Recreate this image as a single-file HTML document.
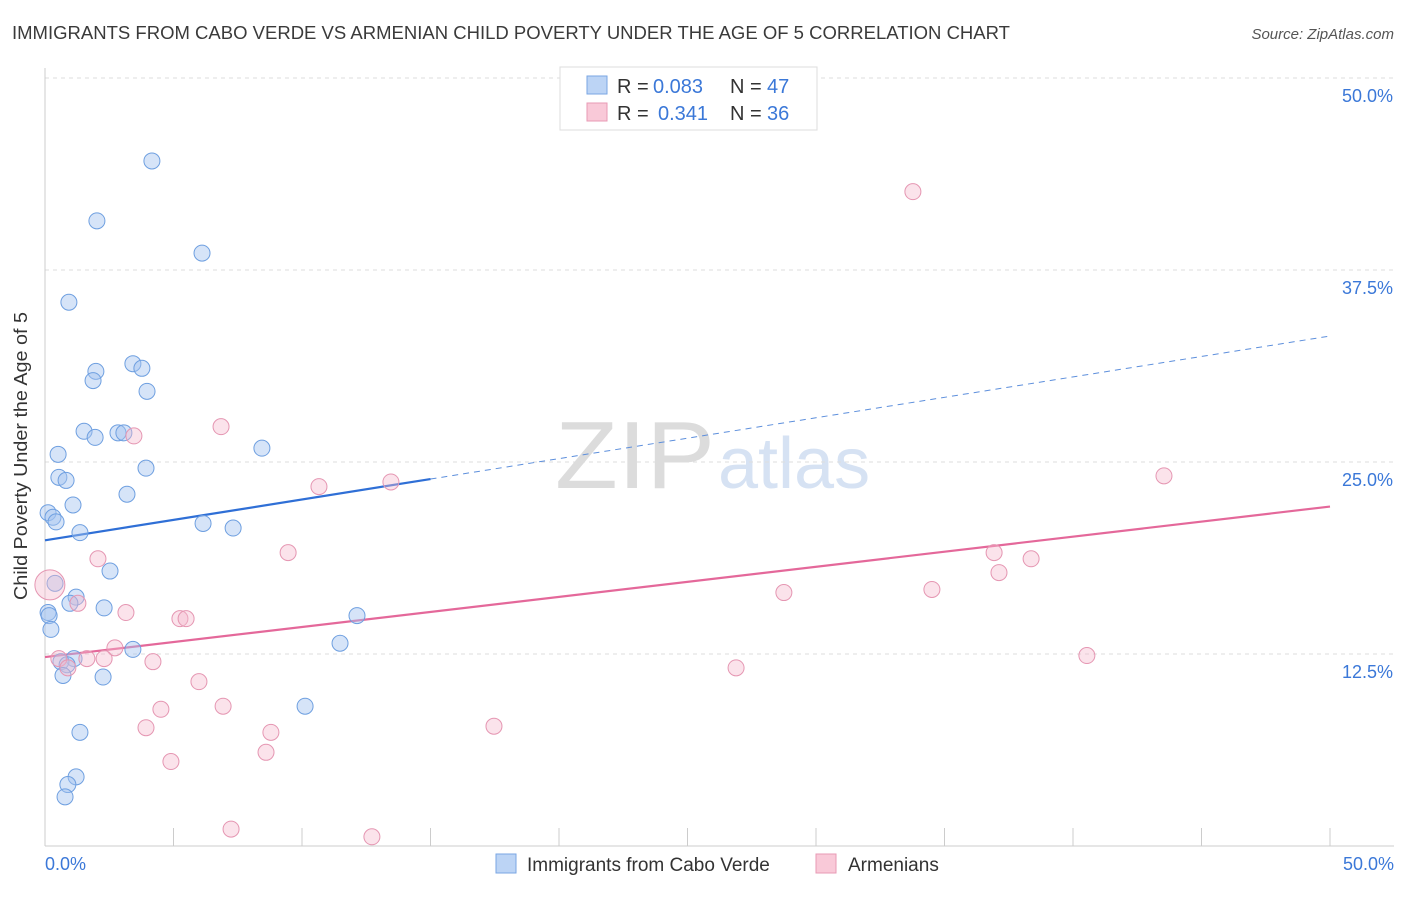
<!DOCTYPE html>
<html><head><meta charset="utf-8"><style>
body{margin:0;background:#fff;font-family:"Liberation Sans",sans-serif}
svg text{font-family:"Liberation Sans",sans-serif}
</style></head><body>
<svg width="1406" height="892">
<text x="12" y="39" font-size="18" fill="#3a3a3a" textLength="998" lengthAdjust="spacingAndGlyphs">IMMIGRANTS FROM CABO VERDE VS ARMENIAN CHILD POVERTY UNDER THE AGE OF 5 CORRELATION CHART</text>
<text x="1394" y="39" font-size="15" fill="#555" text-anchor="end" font-style="italic">Source: ZipAtlas.com</text>
<text x="555" y="488" font-size="96" fill="#dcdcdc" font-family="Liberation Serif" textLength="160" lengthAdjust="spacingAndGlyphs">ZIP</text>
<text x="718" y="488" font-size="72" fill="#d6e2f3">atlas</text>
<g id="grid"></g><g id="axes"></g><g id="lines"></g><g id="pts"></g>
<text x="27" y="456" font-size="18" fill="#333" text-anchor="middle" textLength="288" lengthAdjust="spacingAndGlyphs" transform="rotate(-90 27 456)">Child Poverty Under the Age of 5</text>
<g>
<rect x="560" y="67" width="257" height="63" fill="#fff" stroke="#ddd"/>
<rect x="587" y="76" width="20" height="18" fill="#bcd4f5" stroke="#7aa6e3"/>
<rect x="587" y="103" width="20" height="18" fill="#f9c9d8" stroke="#e89ab5"/>
<text x="617" y="93" font-size="20" fill="#333">R =</text>
<text x="653" y="93" font-size="20" fill="#3b78d8">0.083</text>
<text x="730" y="93" font-size="20" fill="#333">N =</text>
<text x="767" y="93" font-size="20" fill="#3b78d8">47</text>
<text x="617" y="120" font-size="20" fill="#333">R =</text>
<text x="658" y="120" font-size="20" fill="#3b78d8">0.341</text>
<text x="730" y="120" font-size="20" fill="#333">N =</text>
<text x="767" y="120" font-size="20" fill="#3b78d8">36</text>
</g>
<g>
<rect x="496" y="854" width="20" height="19" fill="#bcd4f5" stroke="#7aa6e3"/>
<text x="527" y="871" font-size="19" fill="#333">Immigrants from Cabo Verde</text>
<rect x="816" y="854" width="20" height="19" fill="#f9c9d8" stroke="#e89ab5"/>
<text x="848" y="871" font-size="19" fill="#333">Armenians</text>
</g>
</svg>
<script>
const yTicks=[12.5,25,37.5,50];
const yTickLabels=["12.5%","25.0%","37.5%","50.0%"];
const xTickLabels=["0.0%","50.0%"];
const blueX=[4.16,2.02,6.11,0.93,3.42,3.77,1.98,1.87,3.97,1.52,1.95,2.84,3.07,8.44,0.51,3.93,0.54,0.82,3.19,1.09,0.12,0.31,0.43,6.15,7.32,1.36,2.53,0.39,1.21,0.97,2.30,0.12,0.16,12.14,0.23,11.48,3.42,1.13,0.62,0.86,0.70,2.26,10.12,1.36,1.21,0.89,0.78];
const blueY=[44.6,40.7,38.6,35.4,31.4,31.1,30.9,30.3,29.6,27.0,26.6,26.9,26.9,25.9,25.5,24.6,24.0,23.8,22.9,22.2,21.7,21.4,21.1,21.0,20.7,20.4,17.9,17.1,16.2,15.8,15.5,15.2,15.0,15.0,14.1,13.2,12.8,12.2,12.0,11.8,11.1,11.0,9.1,7.4,4.5,4.0,3.2];
const pinkX=[33.77,6.85,3.46,10.66,13.46,43.54,9.46,2.06,36.93,38.37,37.12,0.19,28.75,34.51,1.28,3.15,5.25,5.49,2.72,0.54,1.63,2.30,4.20,0.89,40.54,26.89,5.99,4.51,6.93,3.93,17.47,8.79,8.60,4.90,7.24,12.72];
const pinkY=[42.6,27.3,26.7,23.4,23.7,24.1,19.1,18.7,19.1,18.7,17.8,17.0,16.5,16.7,15.8,15.2,14.8,14.8,12.9,12.2,12.2,12.2,12.0,11.6,12.4,11.6,10.7,8.9,9.1,7.7,7.8,7.4,6.1,5.5,1.1,0.6];
const blueTrend=[19.9,33.2];
const pinkTrend=[12.3,22.1];
const X=v=>45+v*25.7, Y=v=>846-v*15.36;
const NS="http://www.w3.org/2000/svg";
function mk(p,t,a){const e=document.createElementNS(NS,t);for(const k in a)e.setAttribute(k,a[k]);document.getElementById(p).appendChild(e);return e;}
yTicks.forEach((t,i)=>{
 const l=mk('grid','line',{x1:45,x2:1394,y1:Y(t),y2:Y(t),stroke:'#ddd','stroke-dasharray':'4,4'});
 
 
 const tx=mk('grid','text',{x:1393,y:Y(t)+24,'font-size':18,fill:'#3b78d8','text-anchor':'end'});
 tx.textContent=yTickLabels[i];
 
 
});
const ax=mk('axes','line',{x1:45,x2:1394,y1:846,y2:846,stroke:'#ccc'});


const ay=mk('axes','line',{x1:45,x2:45,y1:68,y2:846,stroke:'#ccc'});


for(let i=0;i<=10;i++){const t=mk('axes','line',{x1:X(i*5),x2:X(i*5),y1:828,y2:846,stroke:'#ccc'});
 
 }
[[0,'start',45],[1,'end',1394]].forEach(([i,a,x])=>{const t=mk('axes','text',{x:x,y:870,'font-size':18,fill:'#3b78d8','text-anchor':a});t.textContent=xTickLabels[i];
 
 });
const bx=v=>blueTrend[0]+(blueTrend[1]-blueTrend[0])*v/50;
let e=mk('lines','line',{x1:X(0),y1:Y(bx(0)),x2:X(15),y2:Y(bx(15)),stroke:'#2f6fd6','stroke-width':2.2});


e=mk('lines','line',{x1:X(15),y1:Y(bx(15)),x2:X(50),y2:Y(bx(50)),stroke:'#5d8fdc','stroke-width':1,'stroke-dasharray':'6,5'});


e=mk('lines','line',{x1:X(0),y1:Y(pinkTrend[0]),x2:X(50),y2:Y(pinkTrend[1]),stroke:'#e4689a','stroke-width':2.2});


blueX.forEach((x,i)=>{const c=mk('pts','circle',{cx:X(x),cy:Y(blueY[i]),r:8,fill:'rgba(164,196,240,0.45)',stroke:'#6e9fe0','stroke-width':1});
 
 });
pinkX.forEach((x,i)=>{const c=mk('pts','circle',{cx:X(x),cy:Y(pinkY[i]),r:i==11?15:8,fill:'rgba(246,184,204,0.4)',stroke:'#e596b2','stroke-width':1});
 
 });
</script>
</body></html>
